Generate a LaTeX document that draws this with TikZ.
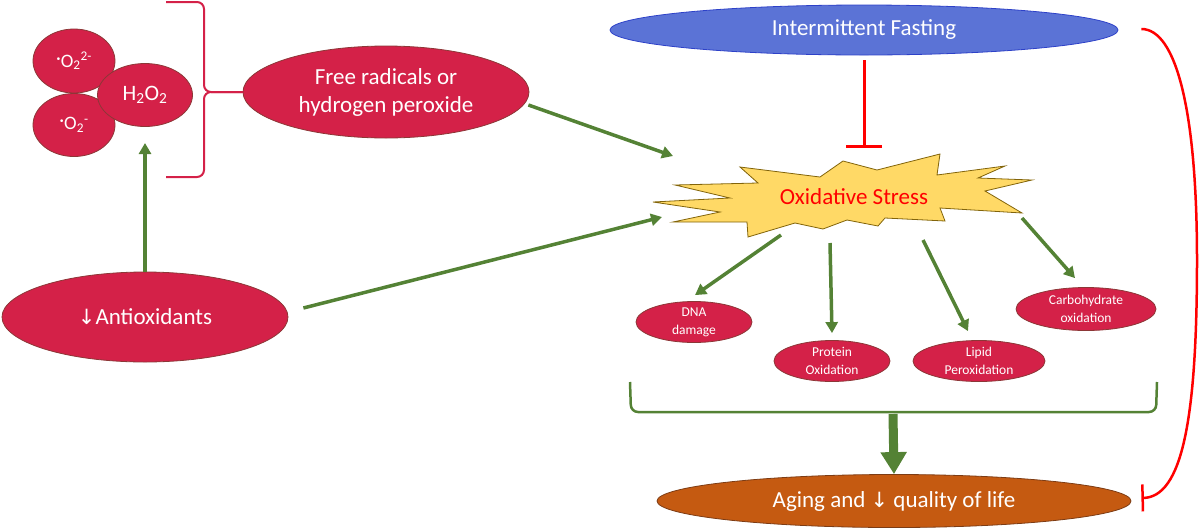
\documentclass[tikz,border=0pt]{standalone}
\usepackage{fontspec}
\setmainfont{Carlito}
\newfontfamily\symfont{DejaVu Sans}
\usetikzlibrary{arrows.meta,calc,shapes.geometric}
\definecolor{crim}{RGB}{212,33,72}
\definecolor{crimdraw}{RGB}{140,55,55}
\definecolor{grn}{RGB}{84,130,53}
\definecolor{bluef}{RGB}{91,115,214}
\definecolor{blued}{RGB}{45,65,200}
\definecolor{orng}{RGB}{197,90,17}
\definecolor{orngd}{RGB}{125,60,20}
\definecolor{yel}{RGB}{255,217,102}
\definecolor{yeld}{RGB}{130,100,10}
\definecolor{redl}{RGB}{255,0,0}
\begin{document}
\begin{tikzpicture}[x=1pt,y=-1pt,
  blob/.style={ellipse, fill=crim, draw=crimdraw, line width=0.8pt, text=white, inner sep=0pt, align=center},
  bigtxt/.style={font=\fontsize{23}{28}\selectfont},
  smalltxt/.style={font=\fontsize{13.5}{18}\selectfont},
  garrow/.style={draw=grn, line width=3.5pt, -{Triangle[length=11pt,width=12pt]}},
  inhib/.style={draw=redl, line width=3pt},
  brace/.style={draw=crim, line width=2pt, rounded corners=7pt}
]
\useasboundingbox (0,0) rectangle (1200,531);

% small radical ellipses
\node[blob, minimum width=82pt, minimum height=64pt, font=\fontsize{19}{22}\selectfont] (o22) at (74,61) {\raisebox{3pt}{·}O\textsubscript{2}\textsuperscript{2-}};
\node[blob, minimum width=82pt, minimum height=63pt, font=\fontsize{19}{22}\selectfont] (o2) at (74,125) {\raisebox{3pt}{·}O\textsubscript{2}\textsuperscript{-}};
\node[blob, minimum width=95pt, minimum height=63pt, font=\fontsize{22}{26}\selectfont] (h2o2) at (145,95) {H\textsubscript{2}O\textsubscript{2}};

% main ellipses
\node[blob, bigtxt, minimum width=286pt, minimum height=92pt] (fr) at (386,92) {Free radicals or\\hydrogen peroxide};
\node[blob, bigtxt, minimum width=286pt, minimum height=90pt] (anti) at (145,317) {{\symfont\fontsize{21}{26}\selectfont ↓}Antioxidants};
\node[ellipse, fill=bluef, draw=blued, line width=0.8pt, text=white, inner sep=0pt, bigtxt, minimum width=508pt, minimum height=50pt] (fast) at (864,30) {Intermittent Fasting};
\node[ellipse, fill=orng, draw=orngd, line width=0.8pt, text=white, inner sep=0pt, bigtxt, minimum width=474pt, minimum height=53pt] (aging) at (894,501) {Aging and {\symfont\fontsize{21}{26}\selectfont ↓} quality of life};

% starburst
\draw[fill=yel, draw=yeld, line width=0.8pt, line join=miter]
  (653,202) -- (730,198) -- (675,185) -- (758,183) -- (740,167) -- (820,177) -- (843,161) -- (877,170)
  -- (940,154) -- (937,175) -- (1005,166) -- (978,178) -- (1032,180) -- (985,191) -- (1022,213)
  -- (940,208) -- (945,221) -- (885,218) -- (878,226) -- (847,220) -- (823,229) -- (795,223)
  -- (748,237) -- (747,222) -- (673,222) -- (720,212) -- cycle;
\node[text=redl, bigtxt, inner sep=0pt] (os) at (854,197) {Oxidative Stress};

% effect ellipses
\node[blob, smalltxt, minimum width=116pt, minimum height=41pt] (dna) at (694,322) {DNA\\damage};
\node[blob, smalltxt, minimum width=116pt, minimum height=41pt] (prot) at (832,361) {Protein\\Oxidation};
\node[blob, smalltxt, minimum width=132pt, minimum height=41pt] (lip) at (979,361) {Lipid\\Peroxidation};
\node[blob, smalltxt, minimum width=140pt, minimum height=43pt] (carb) at (1086,309) {Carbohydrate\\oxidation};

% coordinates near the starburst
\coordinate (osInT) at (673,156);
\coordinate (osInL) at (662,217);
\coordinate (osO1) at (781,235);
\coordinate (osO2) at (830,243);
\coordinate (osO3) at (923,240);
\coordinate (osO4) at (1022,218);
\coordinate (osTop) at (864,148);
\coordinate (radBot) at (145,143);

% red brace
\draw[brace] (166,2) -- (204,2) -- (204,92) -- (243,92);
\draw[brace] (166,177) -- (204,177) -- (204,92) -- (243,92);

% green arrows
\draw[garrow] (anti.north) -- (radBot);
\draw[garrow] ($(anti.east)+(15,-9)$) -- (osInL);
\draw[garrow] ($(fr.east)+(-1,13)$) -- (osInT);
\draw[garrow] (osO1) -- ($(dna.north)+(1,-6)$);
\draw[garrow] (osO2) -- ($(prot.north)+(0,-7)$);
\draw[garrow] (osO3) -- ($(lip.north)+(-11,-9)$);
\draw[garrow] (osO4) -- ($(carb.north)+(-11,-9)$);

% inhibition from fasting
\draw[inhib, -{Bar[width=36pt]}, shorten <=5pt] (fast.south) -- (osTop);

% green bracket and big arrow
\draw[draw=grn, line width=2.5pt, rounded corners=7pt] (630,382) -- (631,412) -- (1156,412) -- (1157,382);
\coordinate (brMid) at (893,414);
\draw[draw=grn, line width=9pt, -{Triangle[length=22pt,width=25pt]}] (brMid) -- (aging.north);

% red curve inhibiting aging
\draw[draw=redl, line width=2.5pt, -{Bar[width=27pt]}]
  ($(fast.east)+(23,-1)$) .. controls (1176,29) and (1197,110) .. (1197,260)
  .. controls (1197,420) and (1182,497) .. ($(aging.east)+(10,-3)$);
\end{tikzpicture}
\end{document}
